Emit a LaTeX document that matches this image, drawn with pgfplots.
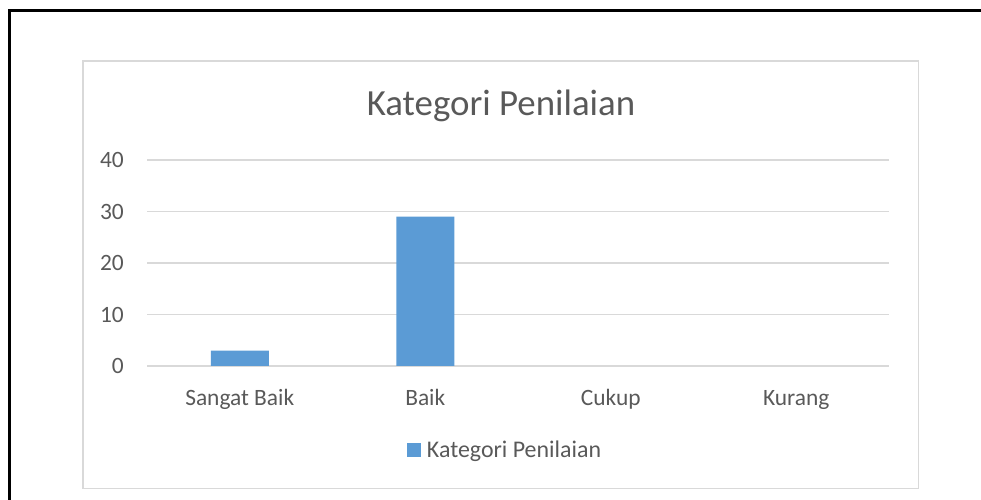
\documentclass[border=0pt]{standalone}
\usepackage{pgfplots}
\pgfplotsset{compat=1.18}
\usepackage{fontspec}
\setmainfont{Carlito}
\definecolor{barblue}{HTML}{5B9BD5}
\definecolor{txt}{HTML}{595959}
\definecolor{gridc}{HTML}{D9D9D9}
\begin{document}
\begin{tikzpicture}[x=1bp,y=1bp]
\useasboundingbox (0,0) rectangle (981,500);
\begin{scope}
\clip (0,0) rectangle (981,500);
\draw[line width=2.5bp] (9.5,-20) -- (9.5,489.5) -- (1000,489.5);
\end{scope}
\draw[gridc, line width=1.5bp] (83,11.3) rectangle (918.7,439);
\node[txt, font=\fontsize{37}{44}\selectfont, anchor=base, inner sep=0pt] at (501,384) {Kategori Penilaian};
\begin{axis}[
  at={(147bp,134bp)}, anchor=south west,
  scale only axis, width=742bp, height=206bp,
  ymin=0, ymax=40, xmin=-0.5, xmax=3.5,
  ybar, bar width=58bp,
  xtick={0,1,2,3},
  xticklabels={Sangat Baik,Baik,Cukup,Kurang},
  ytick={0,10,20,30,40},
  yticklabels={0,10,20,30,40},
  major tick length=0pt,
  axis line style={draw=none},
  ymajorgrids,
  grid style={gridc, line width=1.3bp},
  tick label style={text=txt, font=\fontsize{23.5}{28}\selectfont, inner sep=0pt},
  yticklabel style={anchor=east, xshift=-23bp},
  xticklabel style={anchor=base, yshift=-40bp},
  legend style={at={(axis description cs:0.4825,-0.408)}, anchor=center, draw=none, fill=none,
    font=\fontsize{24}{29}\selectfont, text=txt},
]
\addplot[fill=barblue, draw=none, restrict y to domain=0.5:100,
  legend image code/.code={\fill[barblue] (0bp,-7bp) rectangle (14bp,7bp);}]
  coordinates {(0,3) (1,29) (2,0) (3,0)};
\addlegendentry{\hspace{4bp}Kategori Penilaian}
\end{axis}
\end{tikzpicture}
\end{document}
